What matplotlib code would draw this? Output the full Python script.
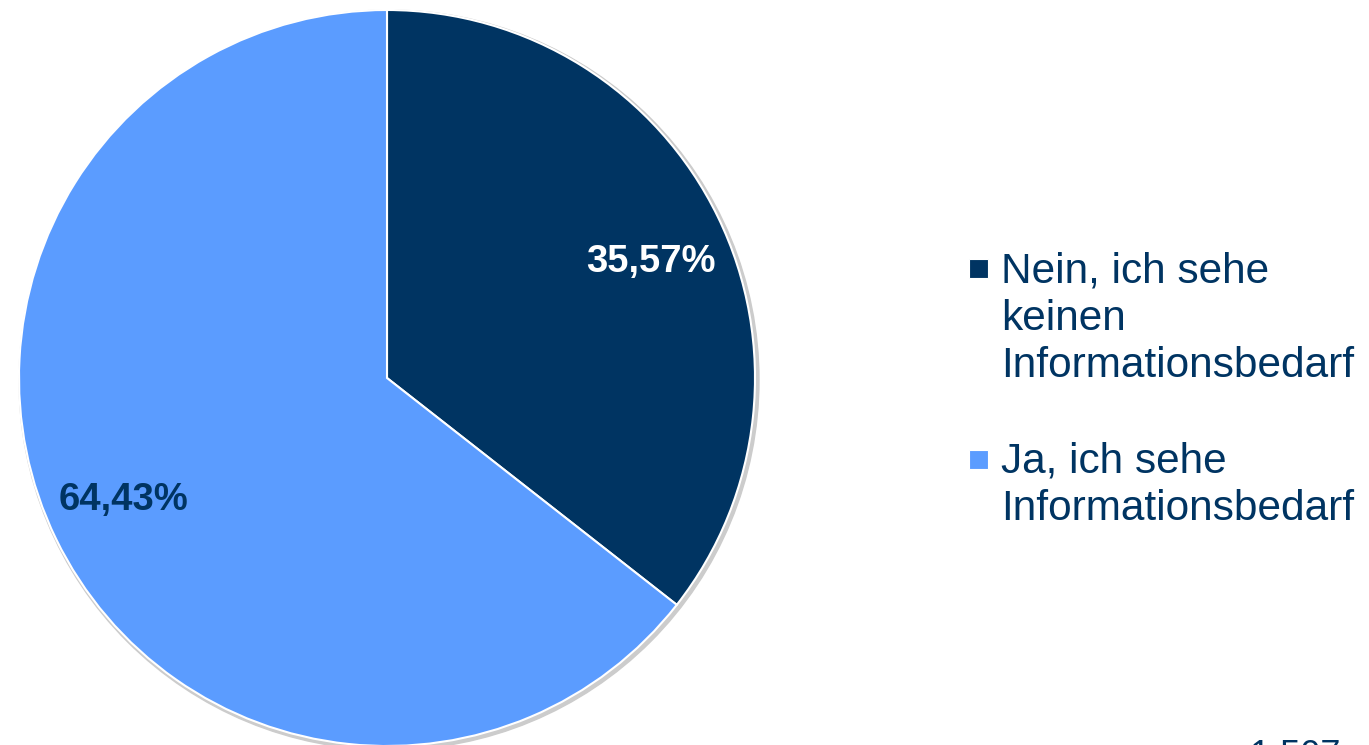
import matplotlib.pyplot as plt
from matplotlib.patches import Circle, Rectangle

# Informationsbedarf survey results
labels = ["Nein, ich sehe\nkeinen\nInformationsbedarf", "Ja, ich sehe\nInformationsbedarf"]
shares = [35.57, 64.43]
colors = ["#003462", "#5b9cff"]
label_colors = ["white", "#003462"]
sample_note = "n=1.507"

plt.rcParams['font.family'] = ['Liberation Sans', 'DejaVu Sans']

fig = plt.figure(figsize=(13.69, 7.45), dpi=100)
ax = fig.add_axes([0, 0, 1, 1])

cx, cy, r = 387, 745 - 378, 368

# soft grey rim behind the pie
ax.add_patch(Circle((cx + 2, cy - 2), r + 2, color="#cccccc", zorder=0))

wedges, texts = ax.pie(shares, colors=colors, startangle=90, counterclock=False,
                       center=(cx, cy), radius=r, frame=True,
                       wedgeprops=dict(edgecolor="white", linewidth=1.5))
ax.set_xlim(0, 1369)
ax.set_ylim(0, 745)
ax.set_aspect('equal')
ax.axis('off')

# percentage labels
label_pos = [(651, 745 - 262), (123, 745 - 500)]
for val, (x, y), c in zip(shares, label_pos, label_colors):
    ax.text(x, y, f"{val:.2f}%".replace(".", ","), ha='center', va='center',
            fontsize=27.5, fontweight='bold', color=c)

# legend drawn by hand so the square sits on the first line
legend_base = [745 - 282, 745 - 473]
line_step = 47.5
for lab, c, yb in zip(labels, colors, legend_base):
    ax.add_patch(Rectangle((969, yb + 4), 19, 19, facecolor=c, edgecolor="white",
                           linewidth=0.8))
    for i, line in enumerate(lab.split("\n")):
        ax.text(1001, yb - i * line_step, line, ha='left', va='baseline',
                fontsize=30.5, color="#003462")

ax.text(1341, -21, sample_note, ha='right', va='baseline', fontsize=26,
        color="#003462")

fig.savefig("out.png", dpi=100)
